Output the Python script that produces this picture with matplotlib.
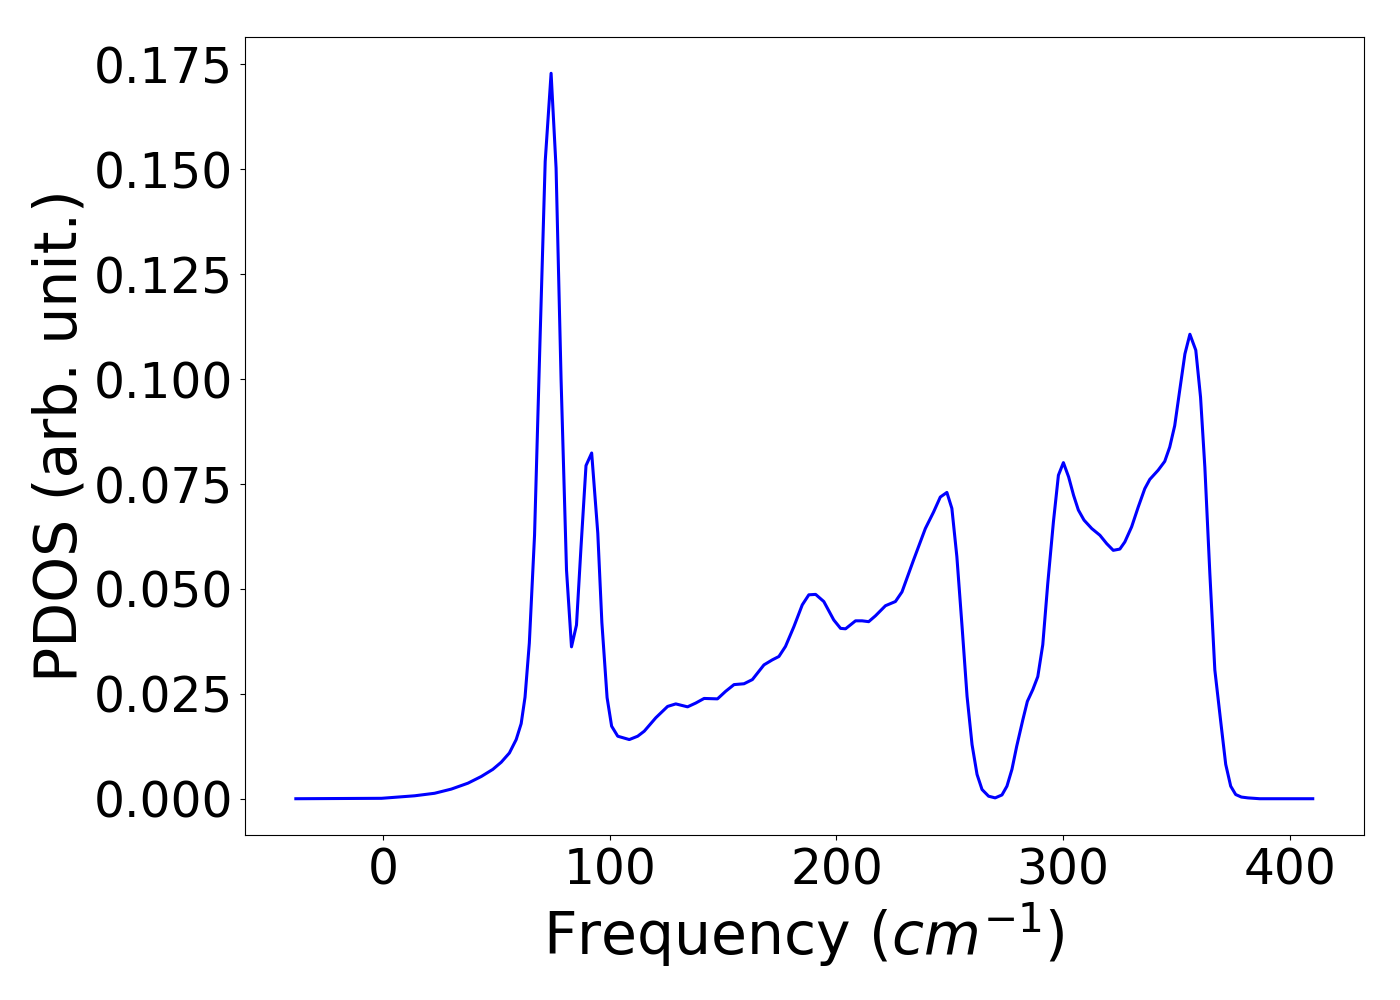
import matplotlib
matplotlib.use('Agg')
import matplotlib.pyplot as plt

# phonon DOS, frequency in cm^-1
freq = [-38.5, -0.7, 13.9, 22.7, 30.1, 37.4, 43.3, 48.4, 52.1, 55.7, 58.7, 60.9,
        62.6, 64.5, 66.8, 69.2, 71.5, 74.1, 76.3, 78.5, 80.9, 83.1, 85.3, 87.3,
        89.5, 92.0, 94.7, 96.5, 98.8, 100.8, 103.5, 108.6, 112.3, 115.2, 120.3,
        125.5, 129.1, 134.3, 137.9, 141.6, 147.5, 151.1, 154.8, 159.2, 162.9,
        168.0, 171.7, 174.6, 177.5, 181.2, 184.9, 187.8, 190.8, 194.4, 198.8,
        201.8, 204.0, 208.4, 211.3, 214.2, 217.2, 221.6, 226.0, 228.9, 234.0,
        239.2, 242.8, 245.8, 248.7, 250.9, 253.1, 255.4, 257.6, 259.8, 262.0,
        264.2, 267.1, 270.0, 273.0, 275.2, 277.4, 279.5, 282.2, 284.2, 286.6,
        288.8, 291.0, 293.2, 295.7, 297.9, 300.1, 302.4, 304.6, 306.7, 309.2,
        312.6, 316.2, 319.2, 322.1, 325.0, 327.2, 330.2, 333.1, 336.0, 338.2,
        341.9, 344.8, 347.0, 349.2, 351.4, 353.7, 355.9, 358.5, 360.6, 362.5,
        364.7, 366.9, 369.5, 371.7, 373.9, 376.1, 378.6, 381.5, 386.7, 410.1]
pdos = [0.0, 0.0001, 0.0007, 0.0013, 0.0023, 0.0037, 0.0053, 0.0070, 0.0087,
        0.0109, 0.0141, 0.0179, 0.0242, 0.0371, 0.0628, 0.109, 0.1519, 0.1729,
        0.1503, 0.100, 0.0545, 0.0362, 0.0414, 0.060, 0.0794, 0.0824, 0.0633,
        0.042, 0.0241, 0.0173, 0.0149, 0.0141, 0.0149, 0.0161, 0.0193, 0.0220,
        0.0226, 0.0219, 0.0228, 0.0239, 0.0238, 0.0256, 0.0272, 0.0274, 0.0284,
        0.0319, 0.0331, 0.0339, 0.0363, 0.0410, 0.0462, 0.0486, 0.0487, 0.0470,
        0.0426, 0.0406, 0.0405, 0.0424, 0.0424, 0.0422, 0.0436, 0.0460, 0.0470,
        0.0493, 0.0569, 0.0644, 0.0683, 0.0719, 0.0730, 0.0692, 0.0577, 0.041,
        0.0244, 0.0129, 0.0058, 0.0022, 0.0006, 0.0002, 0.0009, 0.0030, 0.0070,
        0.0125, 0.0188, 0.0232, 0.0260, 0.0291, 0.0367, 0.0513, 0.0660, 0.0771,
        0.0801, 0.0767, 0.0723, 0.0688, 0.0664, 0.0644, 0.0628, 0.0608, 0.0592,
        0.0595, 0.0612, 0.0648, 0.0695, 0.0739, 0.0761, 0.0783, 0.0804, 0.0838,
        0.0889, 0.0973, 0.1060, 0.1107, 0.1069, 0.0957, 0.0790, 0.0537, 0.0307,
        0.0184, 0.0082, 0.0030, 0.0010, 0.0004, 0.0002, 0.0, 0.0]

fig = plt.figure(figsize=(14, 10), dpi=100)
ax = fig.add_axes([0.175, 0.165, 0.799, 0.798])
ax.plot(freq, pdos, color='blue', lw=2.2)

ax.set_xlabel('Frequency ($cm^{-1}$)', fontsize=42)
ax.set_ylabel('PDOS (arb. unit.)', fontsize=42)
ax.tick_params(labelsize=35, pad=5)

plt.savefig('out.png', dpi=100)
